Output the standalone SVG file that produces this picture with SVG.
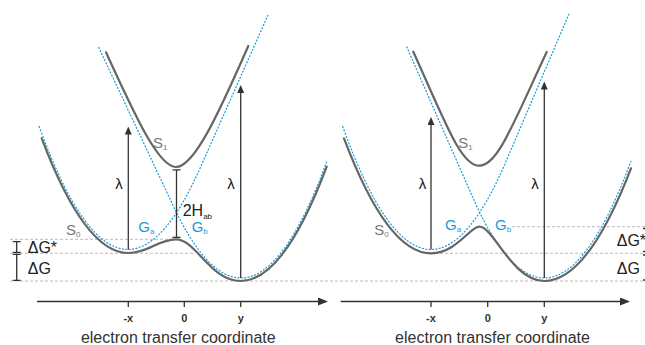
<svg xmlns="http://www.w3.org/2000/svg" width="645" height="345" viewBox="0 0 645 345">
<defs>
<style>
.s{fill:none;stroke:#666;stroke-width:2.2;stroke-linecap:round}
.d{fill:none;stroke:#1a9bd6;stroke-width:1.2;stroke-dasharray:2 1.4}
.g{fill:none;stroke:#aaa;stroke-width:0.8;stroke-dasharray:3 2}
.k{fill:none;stroke:#333;stroke-width:1.3}
.ax{fill:none;stroke:#333;stroke-width:1.5}
text{font-family:"Liberation Sans",Arial,sans-serif}
.lab{font-size:16px;fill:#222}
.sl{font-size:15px;fill:#777}
.gl{font-size:15px;fill:#1a9bd6}
.sub{font-size:8px}
.tk{font-size:11px;font-weight:bold;fill:#333;text-anchor:middle}
.ttl{font-size:16px;fill:#333;text-anchor:middle}
.lam{font-size:15px;fill:#222;text-anchor:middle}
</style>
<marker id="ah" markerWidth="8" markerHeight="7" refX="2" refY="3.5" orient="auto" markerUnits="userSpaceOnUse"><path d="M0,0 L8,3.5 L0,7 z" fill="#333"/></marker>
<marker id="axh" markerWidth="10" markerHeight="8" refX="2" refY="4" orient="auto" markerUnits="userSpaceOnUse"><path d="M0,0 L10,4 L0,8 z" fill="#333"/></marker>
</defs>

<g id="guides">
<path class="g" d="M10,239.3 H173 M10,253.3 H195 M10,281 H645"/>
<path class="g" d="M512,226.7 H645 M435,253.3 H645"/>
</g>

<g id="left-panel">
<g id="left-Ga"><path class="d" d="M39,126 Q83.5,249.5 128,249.5 Q165,249.5 202,163.8 L268,15"/></g>
<g id="left-Gb"><path class="d" d="M98.5,47 L172,203.2 Q206.5,278 241,278 Q284,278 326.7,161.7"/></g>
<g id="left-S0"><path class="s" d="M41.7,138.3 Q85,253 128.3,253 C148,253 158,239.3 176,239.3 C196,239.3 210,281 240.7,281 Q283.7,281 326.7,166.7"/></g>
<g id="left-S1"><path class="s" d="M106,52.3 C134,113 158,167 176,167 C194,167 218,115 248.3,46"/></g>
</g>

<g id="right-panel">
<g id="right-Ga"><path class="d" d="M342.5,126 Q386.75,249.5 431,249.5 Q468,249.5 505,163.8 L569,14"/></g>
<g id="right-Gb"><path class="d" d="M406.5,46.5 L475.3,203.2 Q509.8,278 544.3,278 Q587.6,278 631,161"/></g>
<g id="right-S0"><path class="s" d="M344,138.3 Q387.5,253.3 431,253.3 C456,253.3 470,226.7 479.3,226.7 C494,226.7 512,281 544.3,281 Q587.6,281 631,168.3"/></g>
<g id="right-S1"><path class="s" d="M413.3,51.7 C446,124 461,165.7 479.3,165.7 C497.6,165.7 513,124 546.7,52"/></g>
</g>

<g id="connectors">
<line class="k" x1="128.3" y1="249.5" x2="128.3" y2="132.5" marker-end="url(#ah)"/>
<line class="k" x1="240.7" y1="278" x2="240.7" y2="91" marker-end="url(#ah)"/>
<line class="k" x1="431" y1="249.5" x2="431" y2="123" marker-end="url(#ah)"/>
<line class="k" x1="544.3" y1="278" x2="544.3" y2="87.5" marker-end="url(#ah)"/>
<path class="k" d="M176.5,169.8 V237.3 M172.5,169.8 H180.5 M172.5,237.3 H180.5"/>
<path class="k" d="M16.7,241.7 V252.3 M12.7,241.7 H20.7 M12.7,252.3 H20.7 M16.7,254.3 V280.3 M12.7,254.3 H20.7 M12.7,280.3 H20.7"/>
<path class="k" d="M647,228.5 V251.5 M643,228.5 H651 M643,251.5 H651 M647,255 V280 M643,255 H651 M643,280 H651"/>
</g>

<g id="left-axis">
<line class="ax" x1="37" y1="301.5" x2="320" y2="301.5" marker-end="url(#axh)"/>
<path class="k" d="M128.3,301.5 V307 M184.3,301.5 V307 M240.7,301.5 V307"/>
<text class="tk" x="128.3" y="322">-x</text>
<text class="tk" x="184.3" y="322">0</text>
<text class="tk" x="240.7" y="322">y</text>
<text class="ttl" x="178.3" y="343">electron transfer coordinate</text>
</g>

<g id="right-axis">
<line class="ax" x1="340.7" y1="301.5" x2="622" y2="301.5" marker-end="url(#axh)"/>
<path class="k" d="M431,301.5 V307 M487.7,301.5 V307 M544.3,301.5 V307"/>
<text class="tk" x="431" y="322">-x</text>
<text class="tk" x="487.7" y="322">0</text>
<text class="tk" x="544.3" y="322">y</text>
<text class="ttl" x="492.5" y="343">electron transfer coordinate</text>
</g>

<g id="labels">
<text class="lam" x="119" y="189">λ</text>
<text class="lam" x="231" y="189">λ</text>
<text class="lam" x="422.5" y="189">λ</text>
<text class="lam" x="535" y="189">λ</text>
<text class="sl" x="153" y="148.3">S<tspan class="sub" dy="2">1</tspan></text>
<text class="sl" x="66" y="235">S<tspan class="sub" dy="1.5">0</tspan></text>
<text class="sl" x="458.3" y="148">S<tspan class="sub" dy="2">1</tspan></text>
<text class="sl" x="374.3" y="235">S<tspan class="sub" dy="1.5">0</tspan></text>
<text class="gl" x="138.3" y="232">G<tspan class="sub" dy="1.8">a</tspan></text>
<text class="gl" x="191.7" y="232">G<tspan class="sub" dy="1.8">b</tspan></text>
<text class="gl" x="445" y="230">G<tspan class="sub" dy="1.8">a</tspan></text>
<text class="gl" x="495" y="230">G<tspan class="sub" dy="1.8">b</tspan></text>
<text class="lab" x="182.7" y="216.3">2H<tspan class="sub" dy="2.3">ab</tspan></text>
<text class="lab" x="27.7" y="253">ΔG*</text>
<text class="lab" x="27.7" y="274">ΔG</text>
<text class="lab" x="616.7" y="246">ΔG*</text>
<text class="lab" x="616.7" y="274">ΔG</text>
</g>
</svg>
